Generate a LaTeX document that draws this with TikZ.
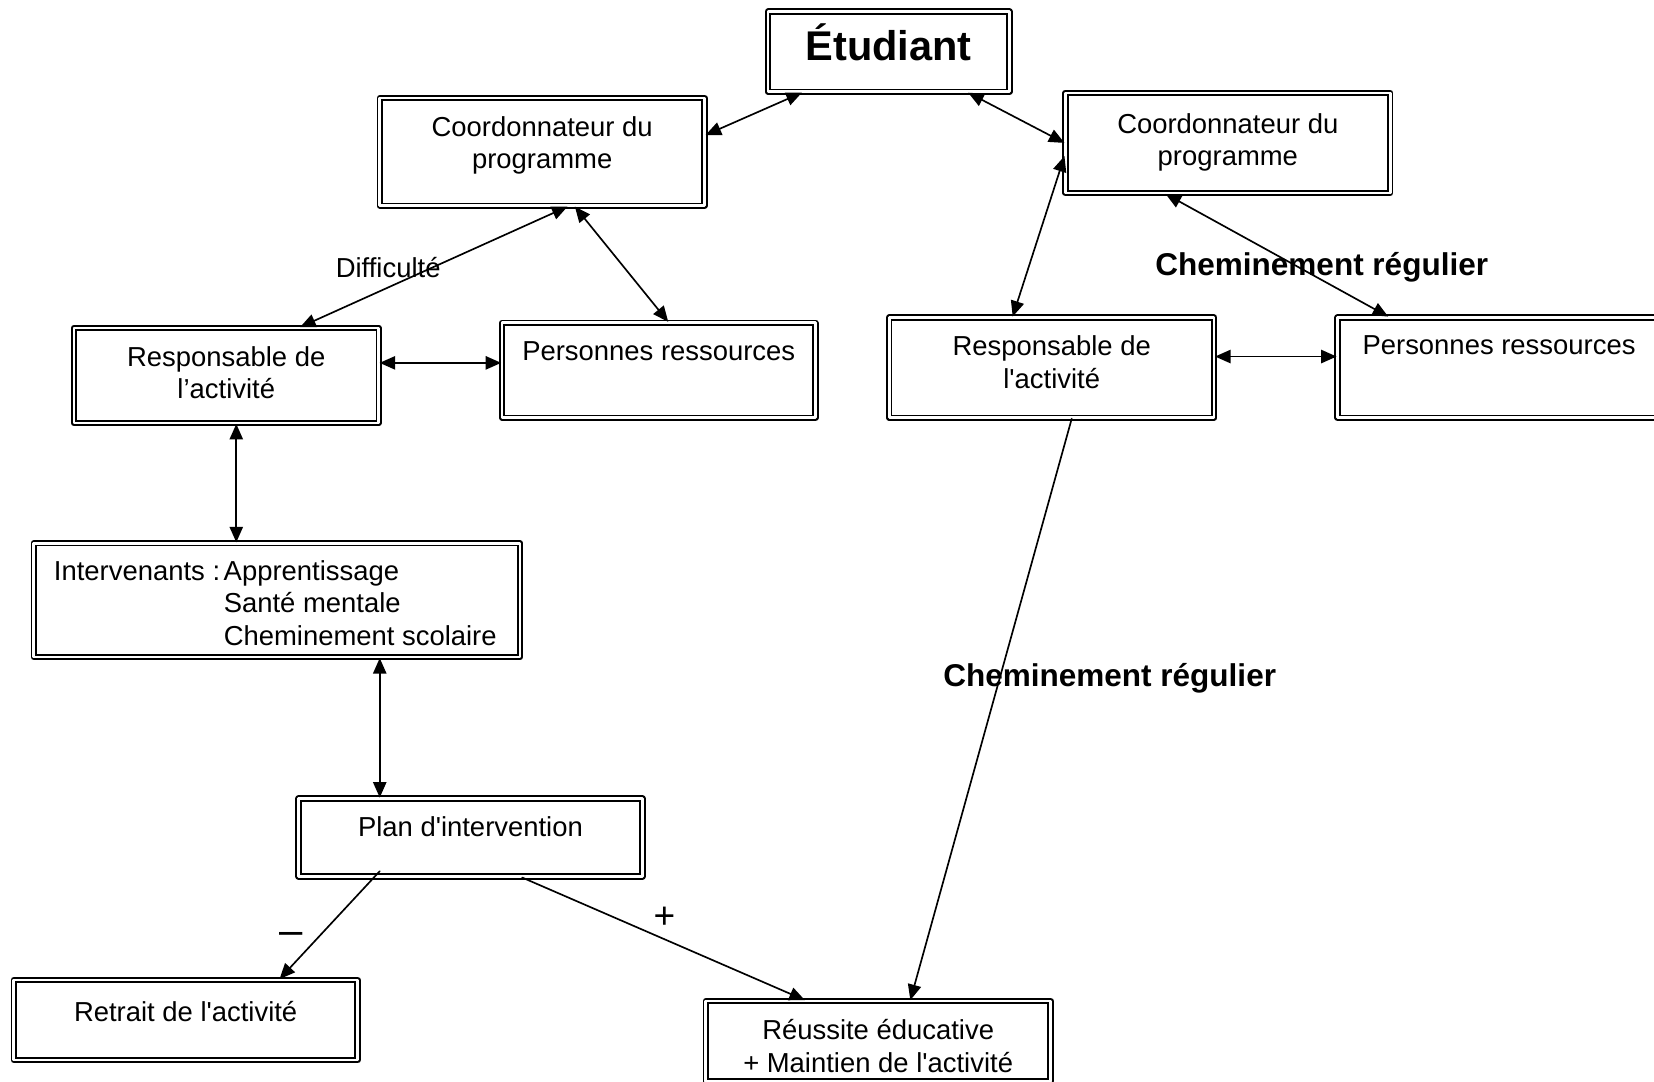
\documentclass[tikz,border=0pt]{standalone}
\usepackage{fontspec}
\setmainfont{Liberation Sans}[Ligatures=TeXOff]
\usetikzlibrary{arrows.meta, calc}

\tikzset{
	boite/.style={draw, double, line width=0.5pt, double distance=0.7pt, inner sep=0pt},
	txt/.style={anchor=north, inner sep=0pt, yshift=-5pt, align=center,
		font=\fontsize{7.4}{8.8}\selectfont},
	lien/.style={<->, line width=0.45pt},
	fleche/.style={->, line width=0.45pt},
	etiq/.style={inner sep=0pt, font=\fontsize{7.4}{8.8}\selectfont},
	etiqgras/.style={inner sep=0pt, font=\bfseries\fontsize{8.5}{10}\selectfont},
}

\begin{document}
\begin{tikzpicture}[>={Triangle[length=4.2pt, width=3.6pt]}, line cap=round, line join=round]
\useasboundingbox (0,0) rectangle (15.68,-10.25);
%========================
% boxes
%========================
\node[boite, minimum width=2.29cm, minimum height=0.76cm,
	label={[txt, yshift=1.7pt, font=\bfseries\fontsize{11.2}{13}\selectfont]north:Étudiant}]
	(etud) at (8.425,-0.49) {};
% left branch
\node[boite, minimum width=3.08cm, minimum height=1.02cm,
	label={[txt]north:Coordonnateur du\\programme}] (coordL) at (5.14,-1.44) {};
\node[boite, minimum width=2.89cm, minimum height=0.90cm,
	label={[txt]north:Responsable de\\l’activité}] (respL) at (2.145,-3.56) {};
\node[boite, minimum width=2.97cm, minimum height=0.90cm,
	label={[txt]north:Personnes ressources}] (persL) at (6.245,-3.51) {};
\node[boite, minimum width=4.61cm, minimum height=1.08cm,
	label={[txt, anchor=north west, align=left, xshift=5.5pt, yshift=0.3pt]north west:\makebox[45.8pt][l]{Intervenants :}Apprentissage\\
		\hspace*{45.8pt}Santé mentale\\
		\hspace*{45.8pt}Cheminement scolaire}] (interv) at (2.625,-5.69) {};
\node[boite, minimum width=3.26cm, minimum height=0.74cm,
	label={[txt]north:Plan d'intervention}] (plan) at (4.46,-7.94) {};
\node[boite, minimum width=3.26cm, minimum height=0.76cm,
	label={[txt, yshift=-0.8pt]north:Retrait de l'activité}] (retrait) at (1.76,-9.67) {};
\node[boite, minimum width=3.27cm, minimum height=0.76cm,
	label={[txt]north:Réussite éducative\\+ Maintien de l'activité}] (reuss) at (8.325,-9.87) {};
% right branch
\node[boite, minimum width=3.08cm, minimum height=0.95cm,
	label={[txt, yshift=-0.6pt]north:Coordonnateur du\\programme}] (coordR) at (11.64,-1.355) {};
\node[boite, minimum width=3.08cm, minimum height=0.95cm,
	label={[txt]north:Responsable de\\l'activité}] (respR) at (9.97,-3.485) {};
\node[boite, minimum width=3.09cm, minimum height=0.95cm,
	label={[txt, xshift=-0.4pt]north:Personnes ressources}] (persR) at (14.225,-3.485) {};

%========================
% labels
%========================
\node[etiq] (diff) at (3.68,-2.54) {Difficulté};
\node[etiqgras] (chemA) at (12.53,-2.53) {Cheminement régulier};
\node[etiqgras] (chemB) at (10.52,-6.43) {Cheminement régulier};
\node[inner sep=0pt, font=\fontsize{10}{12}\selectfont] (plus) at (6.30,-8.70) {+};
\node[inner sep=0pt, font=\fontsize{11.3}{13}\selectfont] (moins) at (2.76,-8.90) {–};

%========================
% connectors
%========================
\draw[lien] ([xshift=3.3mm]etud.south west) -- ([yshift=1.6mm]coordL.east);
\draw[lien] ([xshift=-4mm]etud.south east) -- (coordR.west);
\draw[lien] ([xshift=2.4mm]coordL.south) -- ([xshift=7mm]respL.north);
\draw[lien] ([xshift=3.1mm]coordL.south) -- ([xshift=0.9mm]persL.north);
\draw[lien] ([yshift=1.2mm]respL.east) -- ([yshift=1.2mm]respL.east -| persL.west);
\draw[lien] ([xshift=0.95mm]respL.south) -- ([xshift=0.95mm]respL.south |- interv.north);
\draw[lien] ([xshift=9.75mm]interv.south) -- ([xshift=9.75mm]interv.south |- plan.north);
\draw[fleche] ([xshift=-8.6mm, yshift=0.6mm]plan.south) -- ([xshift=8.9mm]retrait.north);
\draw[fleche] ([xshift=4.9mm]plan.south) -- ([xshift=-6.95mm]reuss.north);
\draw[lien] ([yshift=-1.25mm]coordR.west) -- ([xshift=-3.7mm]respR.north);
\draw[lien] ([xshift=-5.9mm]coordR.south) -- ([xshift=-10.65mm]persR.north);
\draw[lien] ([yshift=1.05mm]respR.east) -- ([yshift=1.05mm]respR.east -| persR.west);
\draw[fleche] ([xshift=1.9mm]respR.south) -- ([xshift=3.05mm]reuss.north);
\end{tikzpicture}
\end{document}
